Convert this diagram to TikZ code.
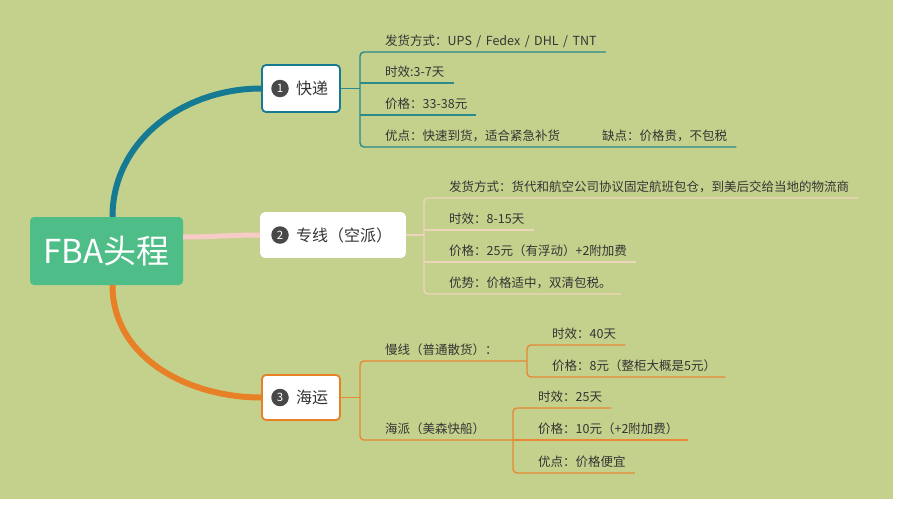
\documentclass[tikz,border=0pt]{standalone}
\usepackage{fontspec}
\setmainfont{Noto Sans CJK SC}
\usetikzlibrary{calc}

\definecolor{bgGreen}{RGB}{196,209,140}
\definecolor{rootGreen}{RGB}{78,189,136}
\definecolor{tealDark}{RGB}{22,122,146}
\definecolor{tealLeaf}{RGB}{42,138,140}
\definecolor{pinkLine}{RGB}{248,202,200}
\definecolor{pinkLeaf}{RGB}{236,213,186}
\definecolor{orangeLine}{RGB}{232,128,40}
\definecolor{orangeLeaf}{RGB}{230,136,52}
\definecolor{txtGray}{RGB}{52,52,52}
\definecolor{numGray}{RGB}{72,72,72}

\newcommand{\sepslash}{\hspace{4.5pt}/\hspace{4.5pt}}

\begin{document}
\begin{tikzpicture}[x=1pt, y=-1pt, line join=round,
    leaf/.style={anchor=base west, inner sep=0pt, text=txtGray,
      font=\fontsize{12.5}{15}\selectfont},
    topic/.style={line width=1.8pt, fill=white, rounded corners=4pt, inner sep=0pt},
    numdot/.style={circle, fill=numGray, text=white, minimum size=17.5pt,
      inner sep=0pt, font=\fontsize{11.5}{12}\selectfont},
    topictext/.style={anchor=west, inner sep=0pt, text=txtGray,
      font=\fontsize{16}{18}\selectfont},
    twig/.style={line width=1.4pt}]
  % ==== canvas ====
  \useasboundingbox (0,0) rectangle (900,504);
  \fill[white] (0,0) rectangle (900,504);
  \fill[bgGreen] (0,0) rectangle (893,499);
  % ==== central topic ====
  \node[fill=rootGreen, rounded corners=4pt, minimum width=153pt, minimum height=68pt,
    inner sep=0pt, text=white, font=\fontsize{33}{36}\selectfont] (root) at (106.5,251) {FBA头程};
  % ==== main topics ====
  \node[topic, draw=tealDark, minimum width=78pt, minimum height=47pt] (kd) at (301,88.5) {};
  \node[numdot] (kdnum) at (280,88.5) {1};
  \node[topictext] (kdtxt) at (296,88.5) {快递};
  \node[topic, draw=white, minimum width=144pt, minimum height=44pt] (zx) at (333,235) {};
  \node[numdot] (zxnum) at (280,235) {2};
  \node[topictext] (zxtxt) at (296,235) {专线（空派）};
  \node[topic, draw=orangeLine, minimum width=78pt, minimum height=45pt] (hy) at (301,397.5) {};
  \node[numdot] (hynum) at (280,397.5) {3};
  \node[topictext] (hytxt) at (296,397.5) {海运};
  % ==== main branches ====
  \draw[tealDark, line width=6pt] ([xshift=6pt]root.north) to[out=90, in=180] (kd.west);
  \draw[pinkLine, line width=5pt] ([yshift=14pt]root.east) to[out=0, in=180] (zx.west);
  \draw[orangeLine, line width=6pt] ([xshift=6pt]root.south) to[out=-90, in=180] (hy.west);
  % ==== leaves: express ====
  \node[leaf] (kd1) at (385,45) {发货方式：UPS\sepslash Fedex\sepslash DHL\sepslash TNT};
  \node[leaf] (kd2) at (385,76) {时效:3-7天};
  \node[leaf] (kd3) at (385,108) {价格：33-38元};
  \node[leaf] (kd4) at (385,140) {优点：快速到货，适合紧急补货};
  \node[leaf] (kd5) at (602,140) {缺点：价格贵，不包税};
  \foreach \n in {kd1,kd2,kd3,kd5}
    \coordinate (\n e) at ([shift={(9,7)}]\n.base east);
  \coordinate (kdbus) at (360,88.5);
  \draw[tealLeaf, twig] (kd.east) -- (kdbus);
  \draw[tealLeaf, twig, rounded corners=4pt] (kd1e) -- (kdbus |- kd1e) -- (kdbus |- kd5e) -- (kd5e);
  \draw[tealLeaf, twig] (kdbus |- kd2e) -- (kd2e);
  \draw[tealLeaf, twig] (kdbus |- kd3e) -- (kd3e);
  % ==== leaves: air line ====
  \node[leaf] (zx1) at (449,191) {发货方式：货代和航空公司协议固定航班包仓，到美后交给当地的物流商};
  \node[leaf] (zx2) at (449,223) {时效：8-15天};
  \node[leaf] (zx3) at (449,255) {价格：25元（有浮动）+2附加费};
  \node[leaf] (zx4) at (449,287) {优势：价格适中，双清包税。};
  \foreach \n in {zx1,zx2,zx3,zx4}
    \coordinate (\n e) at ([shift={(9,7)}]\n.base east);
  \coordinate (zxbus) at (424,235);
  \draw[pinkLeaf, twig] (zx.east) -- (zxbus);
  \draw[pinkLeaf, twig, rounded corners=4pt] (zx1e) -- (zxbus |- zx1e) -- (zxbus |- zx4e) -- (zx4e);
  \draw[pinkLeaf, twig] (zxbus |- zx2e) -- (zx2e);
  \draw[pinkLeaf, twig] (zxbus |- zx3e) -- (zx3e);
  % ==== leaves: sea freight ====
  \node[leaf] (hy1) at (385,354) {慢线（普通散货）：};
  \node[leaf] (hy11) at (552,338) {时效：40天};
  \node[leaf] (hy12) at (552,370) {价格：8元（整柜大概是5元）};
  \node[leaf] (hy2) at (385,433) {海派（美森快船）};
  \node[leaf] (hy21) at (538,401) {时效：25天};
  \node[leaf] (hy22) at (538,433) {价格：10元（+2附加费）};
  \node[leaf] (hy23) at (538,466) {优点：价格便宜};
  \foreach \n in {hy11,hy12,hy21,hy22,hy23}
    \coordinate (\n e) at ([shift={(9,7)}]\n.base east);
  \coordinate (hybus) at (360,397.5);
  \coordinate (mxbus) at (527,361);
  \coordinate (mpbus) at (513,440);
  \draw[orangeLeaf, twig] (hy.east) -- (hybus);
  \draw[orangeLeaf, twig, rounded corners=4pt] (mxbus) -- (hybus |- mxbus) -- (hybus |- mpbus) -- (mpbus);
  \draw[orangeLeaf, twig, rounded corners=4pt] (hy11e) -- (mxbus |- hy11e) -- (mxbus |- hy12e) -- (hy12e);
  \draw[orangeLeaf, twig, rounded corners=4pt] (hy21e) -- (mpbus |- hy21e) -- (mpbus |- hy23e) -- (hy23e);
  \draw[orangeLeaf, twig] (mpbus) -- (hy22e);
\end{tikzpicture}
\end{document}
